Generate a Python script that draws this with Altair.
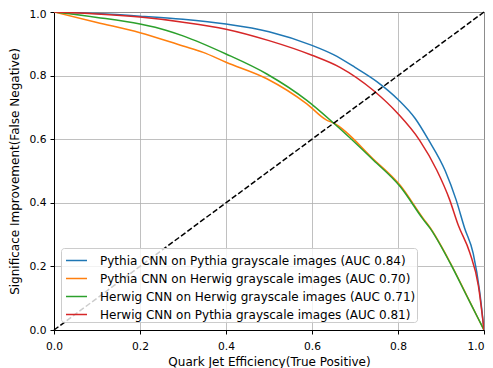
import altair as alt
import pandas as pd

labels = [
    "Pythia CNN on Pythia grayscale images (AUC 0.84)",
    "Pythia CNN on Herwig grayscale images (AUC 0.70)",
    "Herwig CNN on Herwig grayscale images (AUC 0.71)",
    "Herwig CNN on Pythia grayscale images (AUC 0.81)",
]
colors = ["#1f77b4", "#ff7f0e", "#2ca02c", "#d62728"]

blue_x = [0, 0.1, 0.2, 0.3, 0.4, 0.5, 0.6, 0.65, 0.7, 0.75, 0.8, 0.84, 0.87, 0.91, 0.935, 0.955, 0.975, 0.99, 1.0]
blue_y = [1.0, 0.995, 0.987, 0.977, 0.962, 0.938, 0.895, 0.866, 0.826, 0.782, 0.725, 0.665, 0.60, 0.50, 0.41, 0.32, 0.24, 0.12, 0.0]

orange_x = [0, 0.1, 0.2, 0.3, 0.347, 0.4, 0.495, 0.588, 0.634, 0.65, 0.743, 0.805, 0.859, 0.874, 0.921, 0.96, 0.985, 1.0]
orange_y = [1.0, 0.967, 0.935, 0.893, 0.873, 0.842, 0.79, 0.711, 0.66, 0.651, 0.537, 0.455, 0.35, 0.323, 0.213, 0.108, 0.04, 0.0]

green_x = [0, 0.1, 0.2, 0.262, 0.3, 0.4, 0.495, 0.588, 0.65, 0.743, 0.805, 0.859, 0.874, 0.921, 0.96, 0.985, 1.0]
green_y = [1.0, 0.983, 0.962, 0.942, 0.925, 0.868, 0.805, 0.722, 0.651, 0.534, 0.451, 0.347, 0.321, 0.211, 0.107, 0.04, 0.0]

red_x = [0, 0.1, 0.2, 0.3, 0.4, 0.5, 0.6, 0.665, 0.743, 0.8, 0.85, 0.89, 0.92, 0.94, 0.967, 0.987, 1.0]
red_y = [1.0, 0.994, 0.984, 0.968, 0.946, 0.91, 0.864, 0.826, 0.753, 0.68, 0.597, 0.503, 0.41, 0.33, 0.243, 0.139, 0.0]

diag_x = [0.0, 1.0]
diag_y = [0.0, 1.0]

tick_values = [0, 0.2, 0.4, 0.6, 0.8, 1.0]

series = [(blue_x, blue_y), (orange_x, orange_y), (green_x, green_y), (red_x, red_y)]
rows = []
for i, (xs, ys) in enumerate(series):
    for x, y in zip(xs, ys):
        rows.append({"x": x, "y": y, "label": labels[i], "order": i})
df = pd.DataFrame(rows)
diag = pd.DataFrame({"x": diag_x, "y": diag_y})

xscale = alt.Scale(domain=[0, 1], nice=False)
yscale = alt.Scale(domain=[0, 1], nice=False)

lines = alt.Chart(df).mark_line(strokeWidth=1.5, interpolate="monotone", clip=True).encode(
    x=alt.X("x:Q", scale=xscale, title="Quark Jet Efficiency(True Positive)",
            axis=alt.Axis(values=tick_values, format=".1f", labelPadding=7, titlePadding=6,
                          labelAlign=alt.expr("datum.value == 1 ? 'right' : 'center'"))),
    y=alt.Y("y:Q", scale=yscale, title="Significace Improvement(False Negative)",
            axis=alt.Axis(values=tick_values, format=".1f", labelPadding=4, titlePadding=8,
                          labelOffset=alt.expr("datum.value == 1 ? 2 : 0"))),
    color=alt.Color("label:N", scale=alt.Scale(domain=labels, range=colors),
                    legend=alt.Legend(title=None, orient="none", legendX=7, legendY=236,
                                      symbolType="stroke", symbolSize=441, symbolStrokeWidth=1.5,
                                      symbolOffset=3,
                                      labelFontSize=12, labelFont="DejaVu Sans", labelColor="#000000",
                                      fillColor="rgba(255,255,255,0.8)", strokeColor="#cccccc",
                                      cornerRadius=3, padding=1, rowPadding=-3, labelOffset=12,
                                      labelLimit=400)),
    detail="order:N",
)

diagline = alt.Chart(diag).mark_line(color="black", strokeWidth=1.5, strokeDash=[5.5, 2.4]).encode(
    x=alt.X("x:Q", scale=xscale),
    y=alt.Y("y:Q", scale=yscale),
)

chart = alt.layer(lines, diagline).properties(
    width=430, height=318,
    autosize=alt.AutoSizeParams(type="none"),
    padding={"left": 46, "top": 4, "right": 1, "bottom": 38},
).configure_view(
    stroke="black", strokeWidth=1
).configure_axis(
    labelFont="DejaVu Sans", labelFontSize=10.7, labelColor="#000000", labelFlush=False,
    titleFont="DejaVu Sans", titleFontSize=12, titleFontWeight="normal", titleColor="#000000",
    gridColor="#b0b0b0", gridWidth=0.8, domainColor="#000000", tickColor="#000000",
    tickSize=4,
)

chart.save("out.html", embed_options={"renderer": "svg", "actions": False})
